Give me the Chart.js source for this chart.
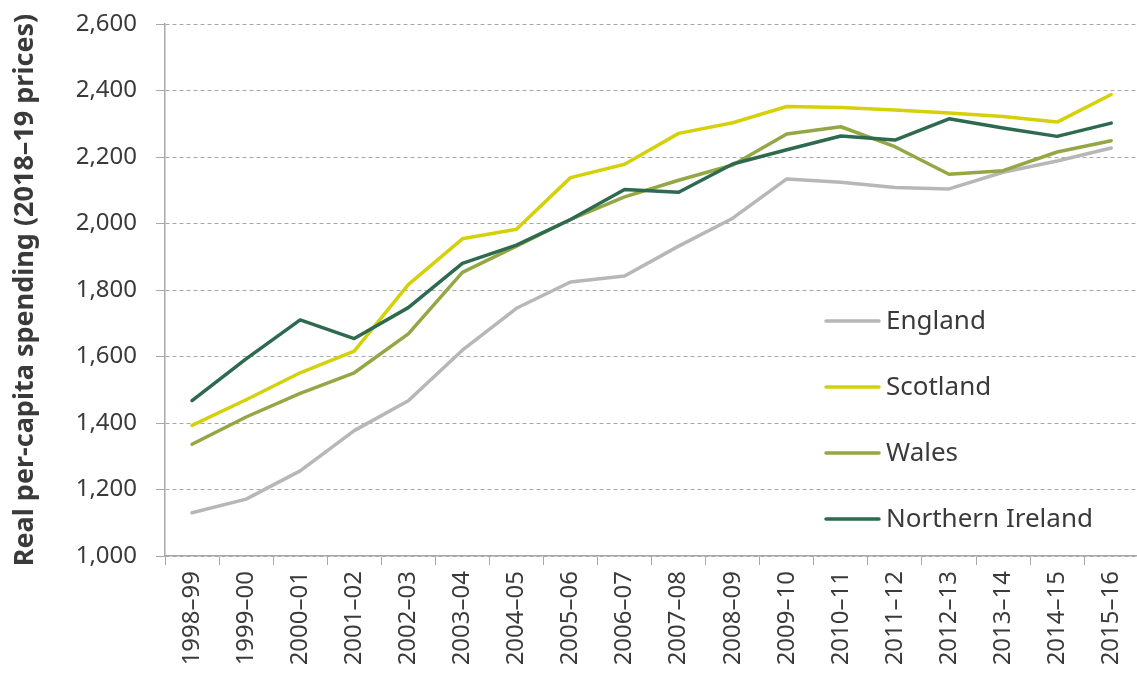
<!DOCTYPE html>
<html>
<head>
<meta charset="utf-8">
<script src="https://cdn.jsdelivr.net/npm/chart.js@4.4.1/dist/chart.umd.min.js"></script>
<style>
  html, body { margin: 0; padding: 0; background: #ffffff; overflow: hidden; }
  #wrap { position: relative; width: 1146px; height: 675px; }
</style>
</head>
<body>
<div id="wrap"><canvas id="chart"></canvas></div>
<script>
const categories = ['1998–99','1999–00','2000–01','2001–02','2002–03','2003–04','2004–05','2005–06','2006–07','2007–08','2008–09','2009–10','2010–11','2011–12','2012–13','2013–14','2014–15','2015–16'];
const england  = [1130, 1171, 1256, 1377, 1467, 1619, 1745, 1824, 1842, 1932, 2016, 2134, 2124, 2108, 2104, 2154, 2188, 2227];
const scotland = [1393, 1470, 1551, 1616, 1816, 1954, 1983, 2138, 2178, 2271, 2303, 2352, 2349, 2341, 2332, 2322, 2305, 2388];
const wales    = [1336, 1418, 1489, 1551, 1668, 1853, 1932, 2012, 2080, 2130, 2176, 2269, 2291, 2231, 2148, 2159, 2215, 2249];
const nIreland = [1467, 1593, 1710, 1654, 1747, 1880, 1935, 2012, 2102, 2094, 2179, 2222, 2263, 2251, 2315, 2287, 2262, 2302];
const seriesNames = ['England', 'Scotland', 'Wales', 'Northern Ireland'];
const yTicks = [1000, 1200, 1400, 1600, 1800, 2000, 2200, 2400, 2600];
const yTitle = 'Real per-capita spending (2018–19 prices)';

const colors = ['#b7b7b7', '#d4d10a', '#94a745', '#2e6a4f'];
const TEXT = '#3a3a3a';
const GRID = '#a8a8a8';
const FONT = "'Noto Sans', 'Open Sans', sans-serif";

const legendPlugin = {
  id: 'insideLegend',
  afterDraw(chart, args, opts) {
    const ctx = chart.ctx;
    ctx.save();
    ctx.font = opts.fontSize + 'px ' + FONT;
    ctx.textBaseline = 'middle';
    ctx.textAlign = 'left';
    chart.data.datasets.forEach((ds, i) => {
      const y = opts.y0 + i * opts.rowGap;
      ctx.strokeStyle = ds.borderColor;
      ctx.lineWidth = opts.lineWidth;
      ctx.lineCap = 'round';
      ctx.beginPath();
      ctx.moveTo(opts.x0, y);
      ctx.lineTo(opts.x0 + opts.lineLen, y);
      ctx.stroke();
      ctx.fillStyle = TEXT;
      ctx.fillText(ds.label, opts.x0 + opts.lineLen + opts.gap, y + 1);
    });
    ctx.restore();
  }
};

const dataArrays = [england, scotland, wales, nIreland];
const drawOrder = [3, 2, 1, 0];

new Chart(document.getElementById('chart'), {
  type: 'line',
  data: {
    labels: categories,
    datasets: dataArrays.map((d, i) => ({
      label: seriesNames[i],
      data: d,
      borderColor: colors[i],
      backgroundColor: colors[i],
      borderWidth: 3.5,
      pointRadius: 0,
      tension: 0,
      fill: false,
      order: drawOrder[i],
      borderJoinStyle: 'round',
      borderCapStyle: 'round'
    }))
  },
  plugins: [legendPlugin],
  options: {
    responsive: true,
    maintainAspectRatio: false,
    animation: false,
    layout: { padding: { top: 24, left: 0, right: 0, bottom: 0 } },
    plugins: {
      legend: { display: false },
      tooltip: { enabled: false },
      insideLegend: { x0: 826, lineLen: 53, gap: 7, y0: 321, rowGap: 66, fontSize: 26, lineWidth: 3.5 }
    },
    scales: {
      x: {
        type: 'category',
        offset: true,
        grid: { offset: true, drawOnChartArea: false, color: GRID, tickLength: 9, tickColor: GRID },
        border: { color: GRID, width: 1.5 },
        ticks: {
          color: TEXT,
          font: { family: FONT, size: 24 },
          maxRotation: 90, minRotation: 90,
          autoSkip: false,
          padding: 6
        },
        afterFit(scale) { scale.height = 119; }
      },
      y: {
        min: 1000, max: 2600,
        afterBuildTicks(scale) { scale.ticks = yTicks.map(v => ({ value: v })); },
        grid: { color: GRID, lineWidth: 1, tickLength: 9, tickColor: GRID, tickBorderDash: [] },
        border: { color: GRID, width: 1.5, dash: [4, 3] },
        ticks: {
          color: TEXT,
          font: { family: FONT, size: 24 },
          padding: 19,
          callback: (v) => Number(v).toLocaleString('en-US')
        },
        title: {
          display: true,
          text: yTitle,
          color: TEXT,
          font: { family: FONT, size: 27, weight: 'bold' },
          padding: { top: 9, bottom: 0 }
        },
        afterFit(scale) {
          scale.width = 165;
          scale.paddingTop = 0;
          scale.paddingBottom = 0;
        }
      }
    }
  }
});
</script>
</body>
</html>
